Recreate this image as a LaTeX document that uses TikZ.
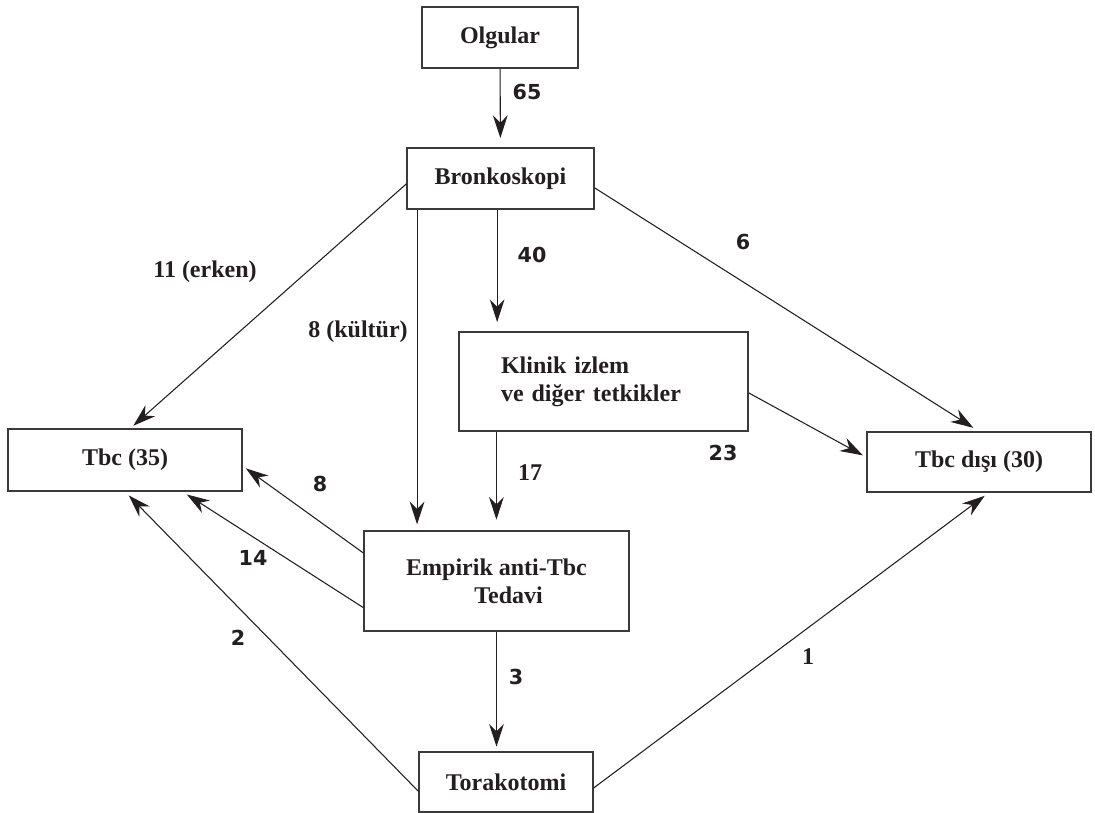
\documentclass[tikz,border=0pt]{standalone}
\usepackage{fontspec}
\setmainfont{Liberation Serif}
\newfontfamily\labsans{DejaVu Sans}
\usetikzlibrary{arrows.meta,positioning,calc}
\definecolor{ink}{HTML}{231F20}
\definecolor{frame}{HTML}{3A3A3A}
\tikzset{
  >={Stealth[length=17pt,width=11pt,inset=5.5pt]},
  box/.style={draw=frame,line width=0.9pt,inner sep=0pt,font=\fontsize{18}{21}\selectfont\bfseries,text=ink,align=center},
  lab/.style={font=\labsans\fontsize{15.5}{18}\selectfont\bfseries,text=ink,inner sep=0pt},
  slab/.style={font=\fontsize{18}{21}\selectfont\bfseries,text=ink,inner sep=0pt},
  arr/.style={->,draw=ink,line width=0.8pt},
}
\begin{document}
\begin{tikzpicture}[x=0.75pt,y=-0.75pt]
\useasboundingbox (0,0) rectangle (1095,813);
\node[box,minimum width=117pt,minimum height=45.75pt] (olg) at (500,37.5) {Olgular};
\node[box,minimum width=140.25pt,minimum height=45.75pt] (bron) at (500.5,178.5) {Bronkoskopi};
\node[box,text width=153.75pt,inner xsep=31.5pt,minimum height=74.25pt,align=left] (klin) at (603.5,381.5) {Klinik izlem\\ve diğer tetkikler};
\node[box,minimum width=175.5pt,minimum height=46.5pt] (tbc) at (125,460) {Tbc (35)};
\node[box,minimum width=168pt,minimum height=45pt] (tbcd) at (979,462) {Tbc dışı (30)};
\node[box,minimum width=198.75pt,minimum height=75pt] (emp) at (496.5,581) {Empirik anti-Tbc\\\hspace*{18pt}Tedavi};
\node[box,minimum width=130.5pt,minimum height=45pt] (tora) at (506,782) {Torakotomi};

\draw[arr,shorten >=7pt] (olg) -- (bron);
\draw[arr,shorten >=3pt] ([yshift=-4pt]bron.west) -- ([xshift=4pt]tbc.north);
\draw[arr,shorten >=4.5pt] ([xshift=8pt]bron.south west) -- ([xshift=8pt]bron.south west |- emp.north);
\draw[arr,shorten >=7pt] ([xshift=-2.5pt]bron.south) -- ([xshift=-2.5pt]bron.south |- klin.north);
\draw[arr,shorten >=5pt] ([yshift=-7pt]bron.east) -- (tbcd.north);
\draw[arr,shorten >=8pt] ([xshift=28.5pt]klin.south west) -- ([xshift=28.5pt]klin.south west |- emp.north);
\draw[arr,shorten >=3pt] ([yshift=-8.5pt]klin.east) -- ([yshift=3.5pt]tbcd.west);
\draw[arr,shorten >=3pt] ([yshift=21pt]emp.west) -- ([yshift=-4.5pt]tbc.east);
\draw[arr,shorten >=4pt] ([yshift=-20pt]emp.west) -- ([xshift=43pt]tbc.south);
\draw[arr,shorten >=4pt] ([yshift=-7pt]tora.west) -- (tbc.south);
\draw[arr,shorten >=4pt] ([yshift=-4.5pt]tora.east) -- ([xshift=7.5pt]tbcd.south);
\draw[arr,shorten >=3.5pt] (emp.south) -- (emp.south |- tora.north);

\node[lab] (n65) at (527,92) {65};
\node[slab] (n11) at (205,272) {11 (erken)};
\node[slab] (n8k) at (358,332) {8 (kültür)};
\node[lab] (n40) at (532,255) {40};
\node[lab] (n6) at (743,242) {6};
\node[slab] (n17) at (530,473) {17};
\node[lab] (n23) at (723,453) {23};
\node[lab] (n8) at (320,484) {8};
\node[lab] (n14) at (253,558) {14};
\node[lab] (n2) at (238,638) {2};
\node[lab] (n3) at (516,677) {3};
\node[slab] (n1) at (808,657) {1};
\end{tikzpicture}
\end{document}
